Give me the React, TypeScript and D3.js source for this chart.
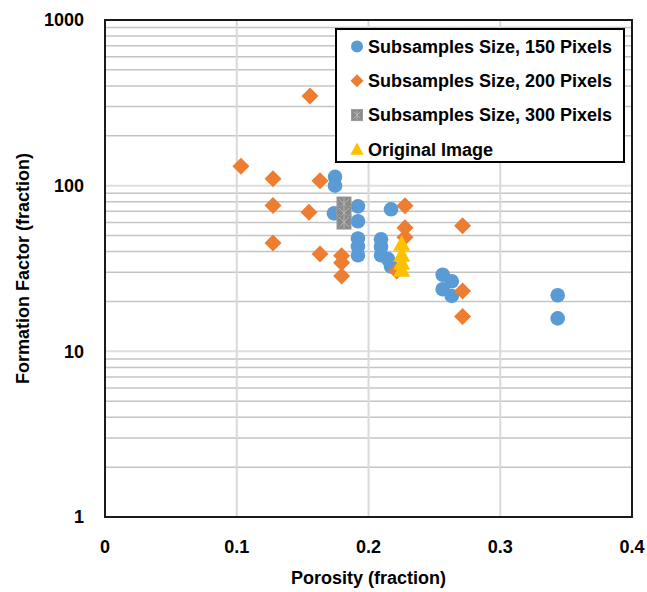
import React from "react";
import * as d3 from "d3";

// Subsamples, 150 px
const poro150 = [0.1746, 0.1746, 0.1738, 0.192, 0.192, 0.192, 0.192, 0.192, 0.2171, 0.2095, 0.2095, 0.2095, 0.2148, 0.2171, 0.2563, 0.2632, 0.2563, 0.2632, 0.3436, 0.3436];
const ff150 = [113, 100, 68, 75, 61, 48, 43, 38, 72, 47.5, 42.8, 38, 36, 32.5, 29, 26.5, 23.7, 21.6, 21.8, 15.8];

// Subsamples, 200 px
const poro200 = [0.1556, 0.1032, 0.1275, 0.1632, 0.1275, 0.1548, 0.1275, 0.1632, 0.1796, 0.1796, 0.1796, 0.2277, 0.2277, 0.2277, 0.2214, 0.2714, 0.2714, 0.2714];
const ff200 = [348, 131, 110, 107, 76, 69, 45, 38.7, 37.8, 34.3, 28.5, 75.7, 55.7, 48.8, 30.5, 57.3, 23.1, 16.2];

// Subsamples, 300 px
const poro300 = [0.1814, 0.1814, 0.1814];
const ff300 = [77.5, 68.4, 60.3];

// Original image
const poroOrig = [0.2252, 0.2252, 0.2252, 0.2252];
const ffOrig = [44.5, 38.1, 34.1, 31];

const xTicks = [0, 0.1, 0.2, 0.3, 0.4];
const xTickLabels = ["0", "0.1", "0.2", "0.3", "0.4"];
const yTicks = [1, 10, 100, 1000];
const yTickLabels = ["1", "10", "100", "1000"];

const legendLabels = [
  "Subsamples Size, 150 Pixels",
  "Subsamples Size, 200 Pixels",
  "Subsamples Size, 300 Pixels",
  "Original Image",
];

const W = 647;
const H = 592;
const M = { left: 105, right: 632, top: 20, bottom: 517 };
const FONT = "'Liberation Sans', Arial, sans-serif";

const BLUE = "#5B9BD5";
const ORANGE = "#ED7D31";
const GRAY = "#8a8a8a";
const YELLOW = "#FFC000";

function Circle({ x, y, r }: { x: number; y: number; r: number }) {
  return <circle cx={x} cy={y} r={r} fill={BLUE} />;
}
function Diamond({ x, y, s }: { x: number; y: number; s: number }) {
  return <path d={`M${x},${y - s}L${x + s},${y}L${x},${y + s}L${x - s},${y}Z`} fill={ORANGE} />;
}
function Square({ x, y, s }: { x: number; y: number; s: number }) {
  return (
    <g>
      <rect x={x - s} y={y - s} width={2 * s} height={2 * s} fill={GRAY} stroke="#9a9a9a" strokeWidth={1} />
      <path
        d={`M${x - s + 2},${y - s + 2}L${x + s - 2},${y + s - 2}M${x + s - 2},${y - s + 2}L${x - s + 2},${y + s - 2}M${x},${y - s + 1}L${x},${y + s - 1}`}
        stroke="#b5b5b5"
        strokeWidth={1}
      />
    </g>
  );
}
function Triangle({ x, y, s }: { x: number; y: number; s: number }) {
  return <path d={`M${x},${y - s}L${x + s * 0.95},${y + s * 0.75}L${x - s * 0.95},${y + s * 0.75}Z`} fill={YELLOW} />;
}

export default function App() {
  const x = d3.scaleLinear().domain([0, 0.4]).range([M.left, M.right]);
  const y = d3.scaleLog().domain([1, 1000]).range([M.bottom, M.top]);

  const minor: number[] = [];
  [1, 10, 100].forEach((d) => {
    for (let k = 2; k <= 9; k++) minor.push(d * k);
  });

  const legX = 336;
  const legY = 29;
  const rowH = 34.3;

  return (
    <svg width={W} height={H} style={{ position: "absolute", left: 0, top: 0, background: "#fff" }} fontFamily={FONT}>
      <rect x={0} y={0} width={W} height={H} fill="#fff" />
      {/* minor horizontal gridlines */}
      {minor.map((v) => (
        <line key={"m" + v} x1={M.left} x2={M.right} y1={y(v)} y2={y(v)} stroke="#c4c4c4" strokeWidth={1.5} />
      ))}
      {/* major horizontal gridlines */}
      {[10, 100].map((v) => (
        <line key={"M" + v} x1={M.left} x2={M.right} y1={y(v)} y2={y(v)} stroke="#dedede" strokeWidth={2} />
      ))}
      {/* vertical gridlines */}
      {xTicks.slice(1, -1).map((v) => (
        <line key={"v" + v} x1={x(v)} x2={x(v)} y1={M.top} y2={M.bottom} stroke="#d9d9d9" strokeWidth={2} />
      ))}

      {/* series */}
      {poro150.map((p, i) => (
        <Circle key={"b" + i} x={x(p)} y={y(ff150[i])} r={7.3} />
      ))}
      {poro200.map((p, i) => (
        <Diamond key={"o" + i} x={x(p)} y={y(ff200[i])} s={8.5} />
      ))}
      {poro300.map((p, i) => (
        <Square key={"g" + i} x={x(p)} y={y(ff300[i])} s={7} />
      ))}
      {poroOrig.map((p, i) => (
        <Triangle key={"t" + i} x={x(p)} y={y(ffOrig[i])} s={9} />
      ))}

      {/* plot frame */}
      <rect x={M.left} y={M.top} width={M.right - M.left} height={M.bottom - M.top} fill="none" stroke="#1a1a1a" strokeWidth={2} />

      {/* tick labels */}
      {yTicks.map((v, i) => (
        <text key={"yl" + v} x={84} y={y(v)} dy="0.35em" textAnchor="end" fontSize={18} fontWeight={700} fill="#000">
          {yTickLabels[i]}
        </text>
      ))}
      {xTicks.map((v, i) => (
        <text key={"xl" + v} x={x(v)} y={553} textAnchor="middle" fontSize={18} fontWeight={700} fill="#000">
          {xTickLabels[i]}
        </text>
      ))}

      {/* axis titles */}
      <text x={(M.left + M.right) / 2} y={584} textAnchor="middle" fontSize={18} fontWeight={700} fill="#000">
        Porosity (fraction)
      </text>
      <text
        transform={`translate(29,${(M.top + M.bottom) / 2}) rotate(-90)`}
        textAnchor="middle"
        fontSize={18}
        fontWeight={700}
        fill="#000"
      >
        Formation Factor (fraction)
      </text>

      {/* legend */}
      <rect x={legX} y={legY} width={288} height={133} fill="#fff" stroke="#000" strokeWidth={2} />
      {legendLabels.map((t, i) => {
        const cy = legY + 17.5 + i * rowH;
        const cx = 357;
        return (
          <g key={"lg" + i}>
            {i === 0 && <Circle x={cx} y={cy} r={6} />}
            {i === 1 && <Diamond x={cx} y={cy} s={6.5} />}
            {i === 2 && <Square x={cx} y={cy} s={5.5} />}
            {i === 3 && <Triangle x={cx} y={cy} s={7} />}
            <text x={368} y={cy} dy="0.35em" fontSize={18} fontWeight={700} fill="#000">
              {t}
            </text>
          </g>
        );
      })}
    </svg>
  );
}
